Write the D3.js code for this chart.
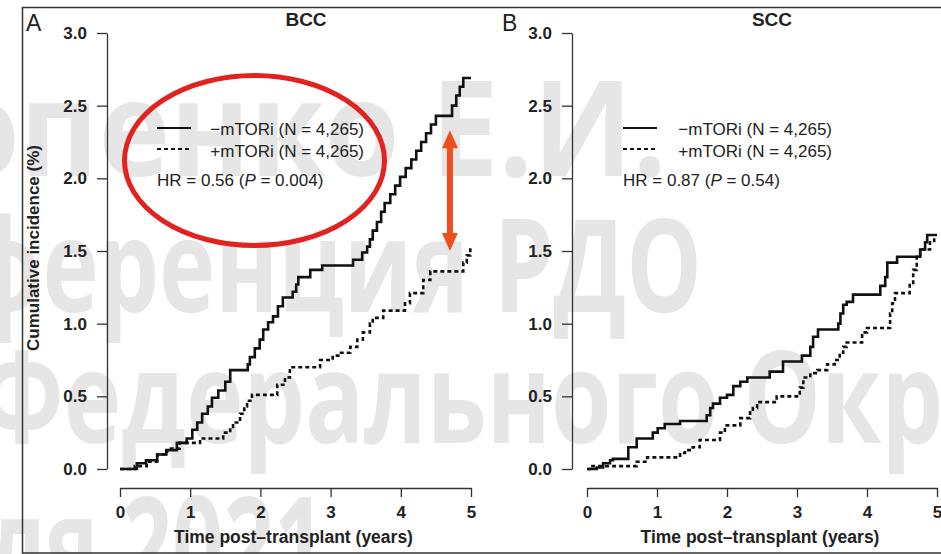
<!DOCTYPE html>
<html>
<head>
<meta charset="utf-8">
<script src="https://cdnjs.cloudflare.com/ajax/libs/d3/7.8.5/d3.min.js"></script>
<style>
  body { margin: 0; background: #fff; }
  svg { display: block; font-family: "Liberation Sans", Arial, sans-serif; }
  .axis path, .axis line { stroke: #333; stroke-width: 1.3; }
  .axis text { font-size: 17px; font-weight: bold; fill: #222; }
</style>
</head>
<body>
<svg id="chart" width="941" height="554"></svg>
<script>
// ticks
var yearTicks = [0, 1, 2, 3, 4, 5];
var pctTicks = [0, 0.5, 1.0, 1.5, 2.0, 2.5, 3.0];

// A: BCC, cumulative incidence (%) step points
var bccMinusTime = [0, 0.24, 0.37, 0.53, 0.66, 0.81, 0.95, 1.03, 1.10, 1.17, 1.25, 1.31, 1.40, 1.50, 1.57, 1.82, 1.85, 1.92, 1.99, 2.04, 2.11, 2.18, 2.25, 2.32, 2.46, 2.51, 2.54, 2.71, 2.88, 3.32, 3.45, 3.52, 3.56, 3.60, 3.66, 3.72, 3.77, 3.85, 3.92, 3.99, 4.07, 4.15, 4.22, 4.29, 4.36, 4.43, 4.50, 4.73, 4.79, 4.84, 4.89, 5.0];
var bccMinusPct = [0, 0.04, 0.06, 0.10, 0.13, 0.18, 0.21, 0.27, 0.32, 0.38, 0.43, 0.49, 0.54, 0.60, 0.68, 0.72, 0.77, 0.83, 0.89, 0.96, 1.01, 1.05, 1.12, 1.18, 1.22, 1.27, 1.32, 1.37, 1.40, 1.44, 1.49, 1.53, 1.58, 1.64, 1.70, 1.77, 1.83, 1.89, 1.95, 2.01, 2.07, 2.13, 2.19, 2.25, 2.31, 2.37, 2.43, 2.50, 2.57, 2.63, 2.69, 2.69];
var bccPlusTime = [0, 0.21, 0.38, 0.53, 0.67, 0.85, 1.14, 1.47, 1.57, 1.61, 1.71, 1.77, 1.81, 1.88, 2.24, 2.35, 2.42, 2.85, 3.03, 3.13, 3.28, 3.38, 3.46, 3.56, 3.60, 3.75, 4.06, 4.13, 4.32, 4.42, 4.89, 4.94, 4.99];
var bccPlusPct = [0, 0.02, 0.05, 0.10, 0.14, 0.18, 0.21, 0.25, 0.29, 0.32, 0.38, 0.43, 0.47, 0.51, 0.58, 0.63, 0.70, 0.75, 0.78, 0.80, 0.84, 0.89, 0.94, 1.00, 1.04, 1.09, 1.14, 1.21, 1.30, 1.36, 1.42, 1.47, 1.53];

// B: SCC
var sccMinusTime = [0, 0.14, 0.23, 0.33, 0.37, 0.59, 0.71, 0.94, 1.01, 1.11, 1.33, 1.71, 1.76, 1.80, 1.90, 2.00, 2.09, 2.19, 2.29, 2.61, 2.80, 3.07, 3.19, 3.23, 3.30, 3.59, 3.62, 3.66, 3.71, 3.80, 4.19, 4.26, 4.29, 4.43, 4.76, 4.83, 4.86, 5.0];
var sccMinusPct = [0, 0.01, 0.04, 0.06, 0.07, 0.15, 0.21, 0.25, 0.28, 0.31, 0.33, 0.37, 0.42, 0.45, 0.49, 0.51, 0.57, 0.60, 0.63, 0.67, 0.74, 0.78, 0.84, 0.91, 0.96, 1.00, 1.07, 1.13, 1.15, 1.20, 1.26, 1.32, 1.42, 1.46, 1.51, 1.56, 1.61, 1.61];
var sccPlusTime = [0, 0.04, 0.71, 0.86, 1.33, 1.40, 1.51, 1.61, 1.90, 1.97, 2.19, 2.33, 2.37, 2.43, 2.71, 3.04, 3.09, 3.19, 3.29, 3.43, 3.54, 3.61, 3.66, 3.71, 3.93, 4.00, 4.33, 4.36, 4.40, 4.61, 4.66, 4.71, 4.76, 4.90, 4.96];
var sccPlusPct = [0, 0.02, 0.05, 0.08, 0.11, 0.13, 0.15, 0.20, 0.25, 0.30, 0.35, 0.39, 0.42, 0.46, 0.50, 0.56, 0.63, 0.66, 0.68, 0.72, 0.75, 0.80, 0.84, 0.87, 0.94, 0.97, 1.07, 1.14, 1.21, 1.28, 1.37, 1.46, 1.51, 1.56, 1.60];

var legendMinus = "\u2212mTORi (N = 4,265)";
var legendPlus = "+mTORi (N = 4,265)";
var hrA = ["0.56", "0.004"];
var hrB = ["0.87", "0.54"];

// watermark lines
var watermark = ["опенко Е.И.", "ференция РДО", "Федерального Округ", "ля 2021"];

const svg = d3.select('#chart');

// watermark behind everything
var wm = svg.append('g')
    .attr('fill', '#e6e6e6')
    .style('font-family', '"Open Sans", "Noto Sans", sans-serif')
    .style('font-weight', 'bold');
var wmPos = [{x: -55, y: 176, len: 722, fs: 132},
             {x: -35, y: 312, len: 737, fs: 130},
             {x: -20, y: 443, len: 1065, fs: 128},
             {x: -12, y: 592, len: 337, fs: 132}];
wm.selectAll('text')
    .data(watermark)
    .enter().append('text')
    .attr('x', (d, i) => wmPos[i].x)
    .attr('y', (d, i) => wmPos[i].y)
    .attr('textLength', (d, i) => wmPos[i].len)
    .attr('lengthAdjust', 'spacingAndGlyphs')
    .style('font-size', (d, i) => wmPos[i].fs + 'px')
    .text(d => d);

// outer frame
svg.append('rect')
    .attr('x', 22.5).attr('y', 7.5)
    .attr('width', 930).attr('height', 545.5)
    .attr('fill', 'none')
    .attr('stroke', '#333')
    .attr('stroke-width', 1.5);

function drawPanel(p) {
    var x = d3.scaleLinear().domain([0, 5]).range([p.x0, p.x1]);
    var y = d3.scaleLinear().domain([0, 3]).range([469, 33]);
    var g = svg.append('g');

    g.append('g')
        .attr('class', 'axis')
        .attr('transform', 'translate(' + p.yAxisX + ',0)')
        .call(d3.axisLeft(y).tickValues(pctTicks).tickFormat(d3.format('.1f')).tickSize(10).tickSizeOuter(0).tickPadding(10));

    g.append('g')
        .attr('class', 'axis')
        .attr('transform', 'translate(0,488)')
        .call(d3.axisBottom(x).tickValues(yearTicks).tickFormat(d3.format('d')).tickSize(9).tickSizeOuter(0).tickPadding(9));

    g.append('text')
        .attr('x', (p.x0 + p.x1) / 2 - 2)
        .attr('y', 543)
        .attr('text-anchor', 'middle')
        .style('font-size', '17.5px')
        .style('font-weight', 'bold')
        .attr('fill', '#222')
        .text('Time post\u2013transplant (years)');

    g.append('text')
        .attr('x', p.titleX)
        .attr('y', 26)
        .attr('text-anchor', 'middle')
        .style('font-size', '19px')
        .style('font-weight', 'bold')
        .attr('fill', '#222')
        .text(p.title);

    g.append('text')
        .attr('x', p.labelX)
        .attr('y', 31)
        .style('font-size', '23px')
        .attr('fill', '#222')
        .text(p.label);

    var line = d3.line()
        .x(d => x(d[0]))
        .y(d => y(d[1]))
        .curve(d3.curveStepAfter);

    g.append('path')
        .datum(d3.zip(p.plusT, p.plusV))
        .attr('d', line)
        .attr('fill', 'none')
        .attr('stroke', '#111')
        .attr('stroke-width', 2.6)
        .attr('stroke-dasharray', '4,3');

    g.append('path')
        .datum(d3.zip(p.minusT, p.minusV))
        .attr('d', line)
        .attr('fill', 'none')
        .attr('stroke', '#111')
        .attr('stroke-width', 2.6);

    // legend
    var lg = g.append('g');
    lg.append('line')
        .attr('x1', p.legX).attr('x2', p.legX + 34)
        .attr('y1', 128).attr('y2', 128)
        .attr('stroke', '#111').attr('stroke-width', 2.2);
    lg.append('line')
        .attr('x1', p.legX).attr('x2', p.legX + 34)
        .attr('y1', 149).attr('y2', 149)
        .attr('stroke', '#111').attr('stroke-width', 2.2)
        .attr('stroke-dasharray', '4,3');
    lg.append('text')
        .attr('x', p.legEnd).attr('y', 135)
        .attr('text-anchor', 'end')
        .style('font-size', '17px').attr('fill', '#222')
        .text(legendMinus);
    lg.append('text')
        .attr('x', p.legEnd).attr('y', 157)
        .attr('text-anchor', 'end')
        .style('font-size', '17px').attr('fill', '#222')
        .text(legendPlus);
    var hr = lg.append('text')
        .attr('x', p.legX).attr('y', 186)
        .style('font-size', '17px').attr('fill', '#222');
    hr.append('tspan').text('HR = ' + p.hr[0] + ' (');
    hr.append('tspan').style('font-style', 'italic').text('P');
    hr.append('tspan').text(' = ' + p.hr[1] + ')');

    return {x: x, y: y, g: g};
}

var panelA = drawPanel({
    x0: 120, x1: 471, yAxisX: 107, title: 'BCC', titleX: 306, label: 'A', labelX: 26,
    minusT: bccMinusTime, minusV: bccMinusPct, plusT: bccPlusTime, plusV: bccPlusPct,
    legX: 157, legEnd: 364, hr: hrA
});

var panelB = drawPanel({
    x0: 587, x1: 937, yAxisX: 572, title: 'SCC', titleX: 772, label: 'B', labelX: 502,
    minusT: sccMinusTime, minusV: sccMinusPct, plusT: sccPlusTime, plusV: sccPlusPct,
    legX: 623, legEnd: 832, hr: hrB
});

// y axis title (panel A only)
svg.append('text')
    .attr('transform', 'translate(39,248) rotate(-90)')
    .attr('text-anchor', 'middle')
    .style('font-size', '17px')
    .style('font-weight', 'bold')
    .attr('fill', '#222')
    .text('Cumulative incidence (%)');

// red ellipse around legend A
svg.append('ellipse')
    .attr('cx', 254.5).attr('cy', 160.5)
    .attr('rx', 130).attr('ry', 85)
    .attr('fill', 'none')
    .attr('stroke', '#e1221f')
    .attr('stroke-width', 5);

// orange double arrow between curves at ~4.7 years
var ax = panelA.x(4.7);
var aTop = panelA.y(2.33), aBot = panelA.y(1.5);
var arrow = svg.append('g').attr('fill', '#f04d1c').attr('stroke', 'none');
arrow.append('rect')
    .attr('x', ax - 3).attr('y', aTop + 12)
    .attr('width', 6).attr('height', aBot - aTop - 24);
arrow.append('path')
    .attr('d', 'M' + ax + ',' + aTop + 'L' + (ax + 8) + ',' + (aTop + 18) + 'L' + (ax - 8) + ',' + (aTop + 18) + 'Z');
arrow.append('path')
    .attr('d', 'M' + ax + ',' + aBot + 'L' + (ax + 8) + ',' + (aBot - 18) + 'L' + (ax - 8) + ',' + (aBot - 18) + 'Z');
</script>
</body>
</html>
